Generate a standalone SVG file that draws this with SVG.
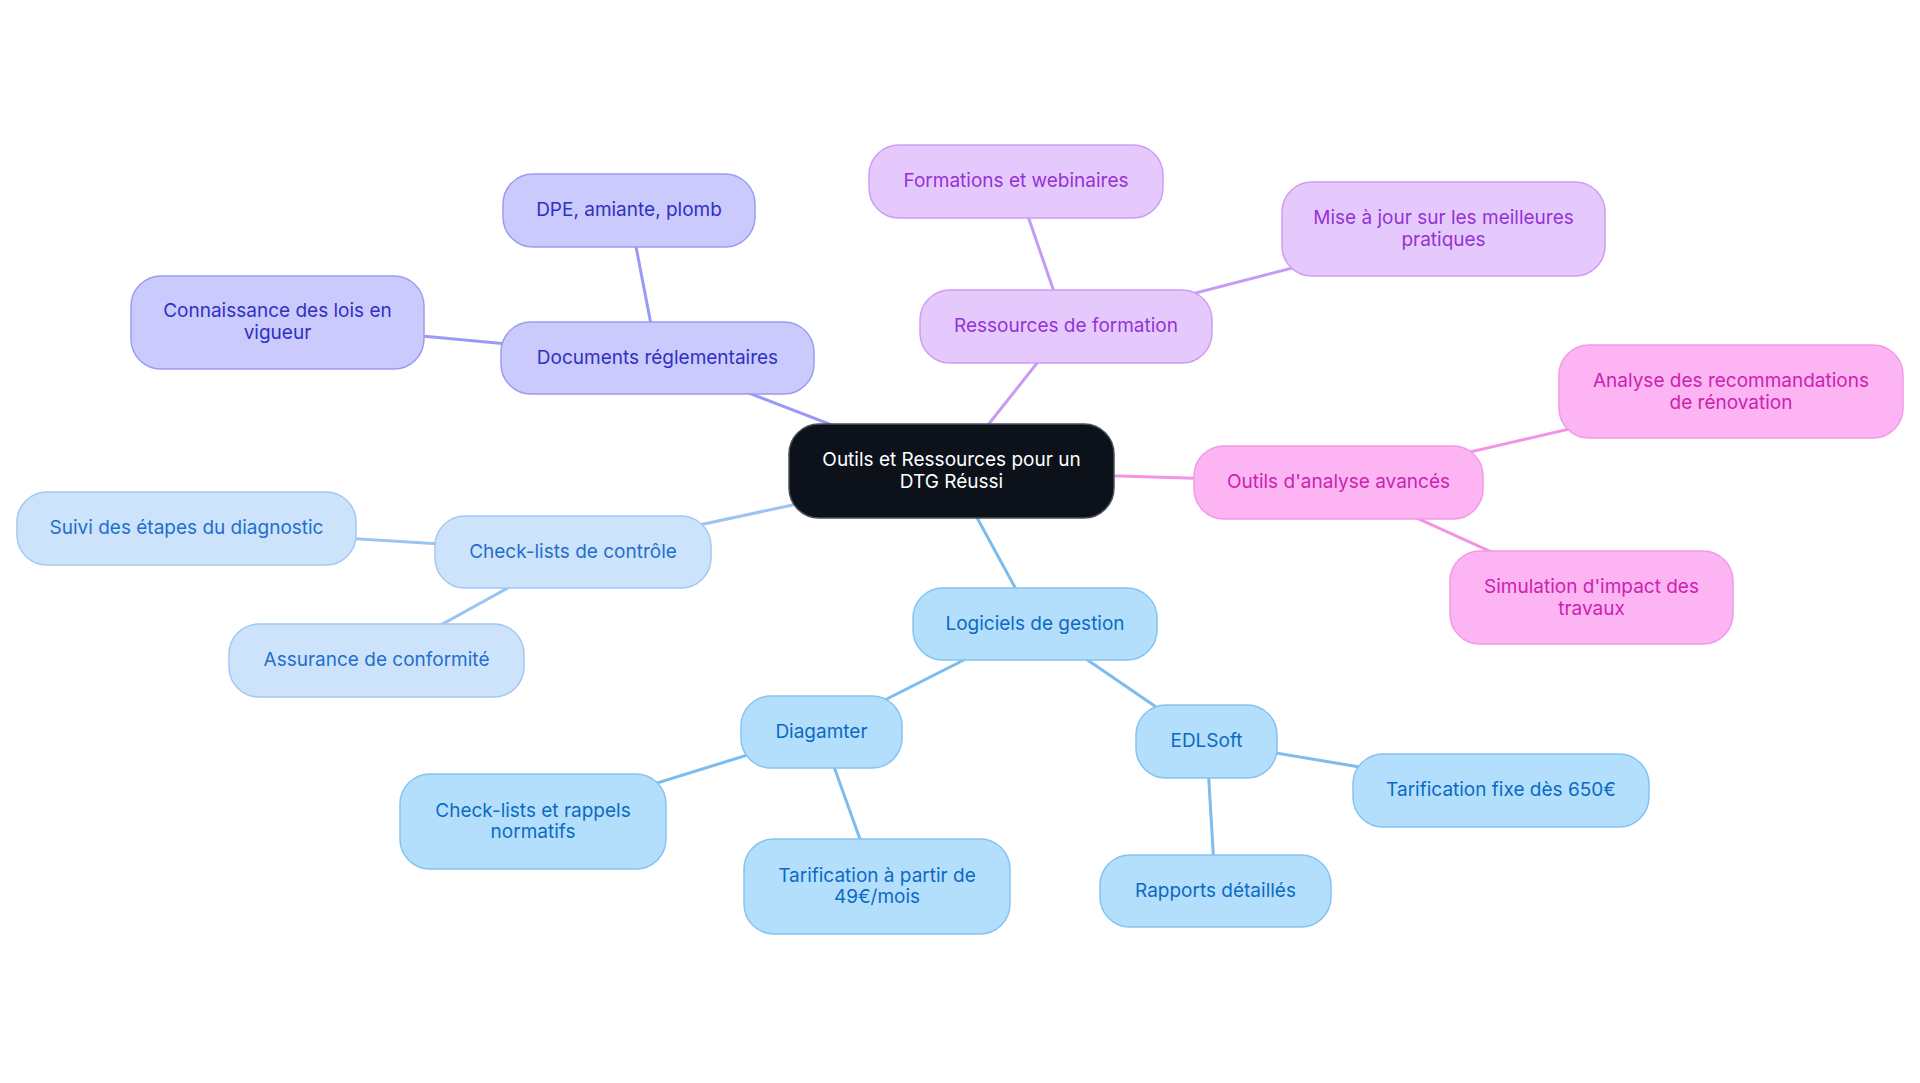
<svg xmlns="http://www.w3.org/2000/svg" width="1920" height="1083" viewBox="0 0 1920 1083">
<style>
text{font-family:Inter,"Noto Sans","Liberation Sans",sans-serif;font-size:19px;text-anchor:middle;dominant-baseline:central}
.e{stroke-width:3;fill:none;stroke-linecap:round}
.ec{stroke:#7cbcee}
.ed{stroke:#9a9af5}
.er{stroke:#c79af5}
.eo{stroke:#f392e6}
.el{stroke:#7cbcee}
.ek{stroke:#9cc4f2}
.n rect{stroke-width:1.5}
.d rect{fill:#cacafc;stroke:#9c9cf0}.d text{fill:#3030c4}
.r rect{fill:#e6c9fc;stroke:#cf9cf3}.r text{fill:#9333d6}
.o rect{fill:#fdb4f3;stroke:#f09ae8}.o text{fill:#cc22b0}
.l rect{fill:#b3dffd;stroke:#85c3f0}.l text{fill:#0c6ac2}
.k rect{fill:#cce3fb;stroke:#a3c9f3}.k text{fill:#1f6fcc}
</style>
<rect width="1920" height="1083" fill="#ffffff"/>
<g id="connectors">
<line class="e ed" x1="951.5" y1="471" x2="657.5" y2="358"/>
<line class="e ed" x1="657.5" y1="358" x2="629" y2="210.5"/>
<line class="e ed" x1="657.5" y1="358" x2="277.5" y2="322.5"/>
<line class="e er" x1="951.5" y1="471" x2="1066" y2="326.5"/>
<line class="e er" x1="1066" y1="326.5" x2="1016" y2="181.5"/>
<line class="e er" x1="1066" y1="326.5" x2="1443.5" y2="229"/>
<line class="e eo" x1="951.5" y1="471" x2="1338.5" y2="482.5"/>
<line class="e eo" x1="1338.5" y1="482.5" x2="1731" y2="391.5"/>
<line class="e eo" x1="1338.5" y1="482.5" x2="1591.5" y2="597.5"/>
<line class="e el" x1="951.5" y1="471" x2="1035" y2="624"/>
<line class="e el" x1="1035" y1="624" x2="821.5" y2="732"/>
<line class="e el" x1="1035" y1="624" x2="1206.5" y2="741.5"/>
<line class="e el" x1="821.5" y1="732" x2="533" y2="821.5"/>
<line class="e el" x1="821.5" y1="732" x2="877" y2="886.5"/>
<line class="e el" x1="1206.5" y1="741.5" x2="1215.5" y2="891"/>
<line class="e el" x1="1206.5" y1="741.5" x2="1501" y2="790.5"/>
<line class="e ek" x1="951.5" y1="471" x2="573" y2="552"/>
<line class="e ek" x1="573" y1="552" x2="186.5" y2="528.5"/>
<line class="e ek" x1="573" y1="552" x2="376.5" y2="660.5"/>
</g>
<g id="root" class="n"><rect x="789" y="424" width="325" height="94" rx="30" fill="#0c111a" stroke="#4a505a"/><text x="951.5" y="459" fill="#ffffff">Outils et Ressources pour un</text><text x="951.5" y="481" fill="#ffffff">DTG Réussi</text></g>
<g id="documents" class="n d"><rect x="501" y="322" width="313" height="72" rx="30"/><text x="657.5" y="357">Documents réglementaires</text></g>
<g id="dpe" class="n d"><rect x="503" y="174" width="252" height="73" rx="30"/><text x="629" y="209.5">DPE, amiante, plomb</text></g>
<g id="connaissance" class="n d"><rect x="131" y="276" width="293" height="93" rx="30"/><text x="277.5" y="310">Connaissance des lois en</text><text x="277.5" y="332">vigueur</text></g>
<g id="ressources" class="n r"><rect x="920" y="290" width="292" height="73" rx="30"/><text x="1066" y="325.5">Ressources de formation</text></g>
<g id="formations" class="n r"><rect x="869" y="145" width="294" height="73" rx="30"/><text x="1016" y="180.5">Formations et webinaires</text></g>
<g id="miseajour" class="n r"><rect x="1282" y="182" width="323" height="94" rx="30"/><text x="1443.5" y="217">Mise à jour sur les meilleures</text><text x="1443.5" y="239">pratiques</text></g>
<g id="outils" class="n o"><rect x="1194" y="446" width="289" height="73" rx="30"/><text x="1338.5" y="481">Outils d'analyse avancés</text></g>
<g id="analyse" class="n o"><rect x="1559" y="345" width="344" height="93" rx="30"/><text x="1731" y="380">Analyse des recommandations</text><text x="1731" y="402">de rénovation</text></g>
<g id="simulation" class="n o"><rect x="1450" y="551" width="283" height="93" rx="30"/><text x="1591.5" y="586">Simulation d'impact des</text><text x="1591.5" y="608">travaux</text></g>
<g id="logiciels" class="n l"><rect x="913" y="588" width="244" height="72" rx="30"/><text x="1035" y="623">Logiciels de gestion</text></g>
<g id="diagamter" class="n l"><rect x="741" y="696" width="161" height="72" rx="30"/><text x="821.5" y="731">Diagamter</text></g>
<g id="edlsoft" class="n l"><rect x="1136" y="705" width="141" height="73" rx="30"/><text x="1206.5" y="740">EDLSoft</text></g>
<g id="rappels" class="n l"><rect x="400" y="774" width="266" height="95" rx="30"/><text x="533" y="810">Check-lists et rappels</text><text x="533" y="831">normatifs</text></g>
<g id="tarif49" class="n l"><rect x="744" y="839" width="266" height="95" rx="30"/><text x="877" y="875">Tarification à partir de</text><text x="877" y="896">49€/mois</text></g>
<g id="rapports" class="n l"><rect x="1100" y="855" width="231" height="72" rx="30"/><text x="1215.5" y="890">Rapports détaillés</text></g>
<g id="tarif650" class="n l"><rect x="1353" y="754" width="296" height="73" rx="30"/><text x="1501" y="789">Tarification fixe dès 650€</text></g>
<g id="checklists" class="n k"><rect x="435" y="516" width="276" height="72" rx="30"/><text x="573" y="551">Check-lists de contrôle</text></g>
<g id="suivi" class="n k"><rect x="17" y="492" width="339" height="73" rx="30"/><text x="186.5" y="527.5">Suivi des étapes du diagnostic</text></g>
<g id="assurance" class="n k"><rect x="229" y="624" width="295" height="73" rx="30"/><text x="376.5" y="659.5">Assurance de conformité</text></g>
</svg>
